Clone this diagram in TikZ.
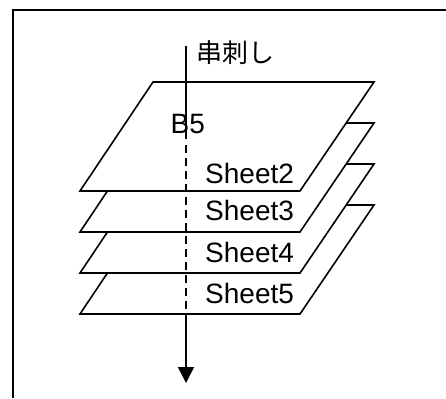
\documentclass[tikz,border=0pt]{standalone}
\usepackage{fontspec}
\setmainfont{Liberation Sans}
\newfontfamily\cjkfont{Noto Sans CJK JP}
\usetikzlibrary{arrows.meta}
\begin{document}
\begin{tikzpicture}[x=1pt,y=-1pt,
  sheetbox/.style={draw=black,fill=white,line width=1.6pt,line join=miter},
  lbl/.style={inner sep=0pt,anchor=base west,font=\fontsize{28}{32}\selectfont},
  rod/.style={draw=black,line width=1.6pt}]
\useasboundingbox (0,0) rectangle (446,398);
% frame (cut at right and bottom)
\draw[line width=2pt] (13,398) -- (13,10) -- (446,10);
% sheets, back to front
\foreach \t in {205,164,123,82}{
  \draw[sheetbox] (153,\t) -- (374,\t) -- (300,\t+109) -- (80,\t+109) -- cycle;
}
\node[lbl] (l2) at (205,183) {Sheet2};
\node[lbl] (l3) at (205,220.5) {Sheet3};
\node[lbl] (l4) at (205,262) {Sheet4};
\node[lbl] (l5) at (205,303.5) {Sheet5};
\node[lbl] (b5) at (170.5,133.5) {B5};
\node[inner sep=0pt,anchor=west,font=\cjkfont\fontsize{26}{30}\selectfont] (kushi) at (196,53) {串刺し};
% rod
\coordinate (rtop) at (186,46);
\coordinate (rmid) at (186,139);
\coordinate (dtop) at (186,145);
\coordinate (dbot) at (186,313);
\coordinate (tip) at (186,383);
\draw[rod] (rtop) -- (rmid);
\draw[rod,dash pattern=on 8pt off 5pt] (dtop) -- (dbot);
\draw[rod,-{Triangle[width=16pt,length=16pt]}] (dbot) -- (tip);
\end{tikzpicture}
\end{document}
